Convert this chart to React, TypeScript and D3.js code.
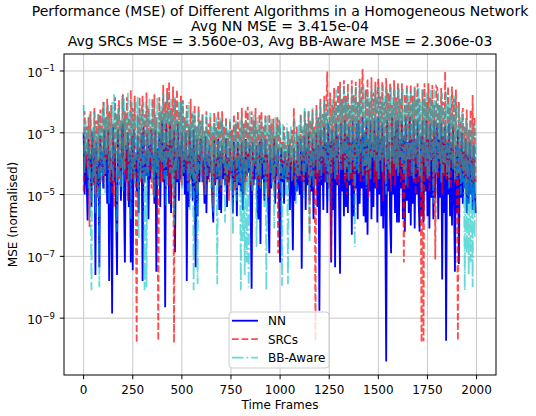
import { line, range, scaleLinear, scaleLog } from "d3"

// log10(MSE), one sample every 5 time frames (0..1995), one row per 100 frames
const NN_LOG = [
  -3.0, -5.0, -3.6, -4.4, -5.84, -3.2, -4.2, -3.7, -5.4, -3.0, -4.6, -3.5, -7.6, -3.3, -4.7, -3.9, -7.35, -3.1, -4.3, -3.6,
  -4.8, -2.9, -4.4, -3.5, -5.3, -2.9, -7.8, -3.6, -4.3, -8.85, -2.8, -4.6, -3.4, -5.5, -7.6, -2.9, -4.4, -3.7, -5.2, -2.9,
  -2.7, -5.0, -7.2, -3.4, -4.5, -3.0, -5.4, -3.6, -7.2, -3.1, -7.45, -2.9, -4.4, -3.7, -4.9, -3.1, -5.6, -3.5, -4.3, -3.0,
  -7.8, -2.8, -4.6, -3.6, -4.4, -3.0, -5.8, -3.4, -4.5, -2.9, -4.2, -3.7, -5.3, -2.9, -7.5, -3.5, -4.5, -3.0, -5.4, -3.3,
  -2.6, -4.6, -3.3, -8.65, -2.7, -4.4, -3.4, -5.3, -2.7, -5.6, -3.2, -4.3, -2.9, -6.87, -3.5, -4.6, -2.7, -5.2, -3.4, -4.5,
  -3.0, -4.4, -3.6, -5.0, -3.0, -7.8, -3.7, -5.4, -2.9, -4.5, -3.5, -5.2, -2.9, -4.4, -7.35, -3.2, -5.7, -3.7, -4.6, -3.2,
  -3.3, -4.6, -3.8, -5.3, -3.1, -5.6, -3.7, -4.5, -3.4, -4.3, -3.9, -5.2, -5.9, -3.2, -4.7, -3.8, -4.5, -3.2, -5.5, -3.6,
  -5.6, -3.4, -4.5, -3.9, -4.7, -3.2, -5.4, -3.8, -4.6, -3.5, -4.4, -3.9, -5.6, -3.3, -4.6, -3.8, -5.7, -3.3, -4.7, -3.7,
  -4.9, -3.3, -5.5, -3.8, -4.6, -3.2, -4.4, -3.7, -4.3, -3.4, -5.3, -8.05, -3.3, -4.7, -3.8, -4.5, -3.4, -5.5, -5.8, -3.3,
  -6.6, -3.2, -4.5, -3.8, -5.2, -3.2, -4.6, -3.7, -5.5, -6.9, -3.4, -4.8, -3.8, -4.5, -3.2, -5.3, -3.7, -4.4, -3.5, -5.3,
  -7.2, -3.5, -4.6, -3.9, -5.3, -3.6, -4.5, -3.9, -4.6, -3.4, -5.5, -3.8, -4.6, -6.8, -3.5, -5.2, -3.9, -4.9, -3.3, -4.6,
  -5.0, -3.2, -7.4, -3.6, -4.6, -3.1, -5.5, -3.5, -4.7, -3.0, -5.2, -3.6, -4.9, -3.2, -5.8, -3.5, -4.5, -3.0, -5.4, -3.4,
  -8.76, -2.9, -4.7, -3.4, -5.5, -2.8, -4.6, -3.3, -5.6, -2.7, -4.8, -3.3, -7.2, -2.9, -5.5, -3.2, -7.35, -2.7, -4.7, -3.1,
  -5.2, -7.56, -2.7, -4.9, -3.2, -5.7, -2.6, -5.4, -3.1, -5.6, -2.8, -4.7, -3.3, -6.3, -2.6, -5.7, -3.2, -4.8, -2.7, -5.8,
  -2.6, -5.3, -3.2, -4.8, -2.5, -5.7, -3.0, -5.9, -2.6, -6.3, -3.2, -4.9, -2.6, -5.8, -3.3, -5.4, -2.6, -4.8, -3.1, -5.9,
  -2.5, -5.0, -3.2, -5.7, -2.7, -6.1, -3.1, -5.2, -10.4, -2.6, -4.9, -3.3, -5.8, -6.9, -2.5, -5.0, -3.1, -5.6, -2.6, -5.9,
  -2.6, -5.9, -3.2, -4.8, -2.6, -5.8, -3.1, -6.2, -2.5, -5.2, -3.3, -5.6, -2.5, -6.0, -3.2, -5.3, -2.6, -6.1, -3.2, -5.0,
  -2.6, -5.2, -6.2, -3.1, -5.7, -2.6, -5.9, -3.3, -4.9, -2.6, -5.7, -3.2, -6.1, -2.7, -5.1, -3.2, -5.8, -2.6, -5.1, -3.2,
  -2.7, -5.8, -3.2, -5.1, -2.7, -7.75, -3.1, -5.6, -2.8, -9.73, -3.3, -5.0, -2.7, -5.7, -3.3, -6.0, -2.8, -5.1, -7.5, -3.4,
  -5.6, -2.9, -7.25, -3.5, -5.1, -3.0, -5.3, -3.6, -4.8, -3.2, -5.6, -3.7, -5.3, -3.3, -5.0, -3.8, -5.5, -3.4, -4.8, -5.6,
]

const SRC_LOG = [
  -4.9, -2.3, -4.1, -2.8, -4.4, -2.5, -6.05, -2.3, -3.8, -2.9, -4.7, -2.2, -5.0, -2.6, -5.1, -2.4, -3.9, -2.25, -4.6, -2.7,
  -2.0, -4.8, -2.5, -3.9, -1.9, -4.2, -2.3, -4.6, -2.1, -5.0, -2.7, -5.4, -1.85, -3.7, -2.4, -4.5, -1.95, -4.7, -2.6, -4.1,
  -1.75, -4.3, -2.3, -4.6, -1.85, -5.2, -2.5, -3.9, -1.62, -4.5, -2.2, -4.6, -1.8, -4.8, -9.8, -2.4, -4.0, -1.85, -4.6, -2.5,
  -1.8, -4.7, -2.4, -3.8, -1.7, -4.3, -2.2, -4.2, -2.6, -4.8, -1.9, -5.0, -1.75, -3.9, -2.5, -4.5, -9.73, -1.85, -4.6, -2.3,
  -4.6, -1.45, -3.9, -2.0, -4.1, -1.55, -4.7, -1.35, -5.3, -2.2, -4.4, -1.5, -9.8, -1.9, -4.5, -1.6, -3.8, -2.3, -4.6, -1.8,
  -4.7, -1.95, -3.9, -2.5, -4.2, -2.1, -4.6, -2.7, -5.1, -1.9, -4.3, -2.4, -4.5, -2.1, -4.9, -2.8, -4.8, -2.15, -3.9, -2.6,
  -4.4, -2.4, -4.7, -2.9, -5.0, -2.3, -3.9, -2.7, -4.6, -2.5, -4.3, -3.0, -5.4, -2.35, -4.6, -2.8, -4.1, -2.3, -4.8, -2.6,
  -4.9, -2.3, -4.0, -2.8, -4.5, -2.5, -4.7, -3.0, -5.2, -2.6, -4.5, -2.9, -4.0, -2.4, -4.9, -2.7, -4.8, -2.3, -3.9, -2.85,
  -4.6, -2.2, -4.0, -2.7, -5.0, -2.25, -4.6, -2.16, -3.9, -2.8, -4.7, -2.3, -4.9, -2.6, -4.1, -2.2, -4.5, -2.9, -4.7, -2.4,
  -4.7, -2.3, -4.0, -2.8, -4.4, -2.4, -4.8, -3.0, -5.1, -2.4, -3.9, -2.7, -4.6, -2.55, -4.9, -3.1, -4.3, -2.5, -6.9, -2.6,
  -2.9, -4.5, -3.3, -4.0, -2.8, -4.2, -3.4, -4.6, -2.95, -4.8, -3.2, -4.1, -2.9, -4.5, -2.2, -4.7, -4.3, -2.8, -4.5, -3.1,
  -4.4, -2.4, -4.6, -2.9, -4.9, -2.3, -3.9, -2.7, -4.5, -2.3, -6.3, -2.6, -4.5, -2.25, -4.0, -2.8, -9.73, -2.1, -4.5, -2.5,
  -4.6, -1.9, -3.9, -2.4, -4.3, -1.8, -4.6, -2.2, -1.02, -4.5, -4.8, -1.7, -7.1, -2.1, -4.3, -1.55, -3.9, -2.0, -4.6, -1.45,
  -4.7, -1.35, -3.9, -1.9, -4.2, -1.3, -4.6, -1.8, -5.0, -1.4, -4.0, -2.1, -4.5, -1.3, -4.7, -1.75, -4.9, -1.35, -3.8, -2.0,
  -4.4, -1.25, -4.6, -1.8, -0.94, -4.6, -3.9, -1.6, -4.5, -1.25, -5.1, -2.0, -4.4, -1.2, -3.8, -1.7, -4.6, -1.35, -4.8, -1.9,
  -1.25, -4.5, -1.8, -3.9, -1.35, -5.2, -2.0, -4.6, -1.23, -4.0, -1.7, -4.5, -1.4, -4.9, -2.1, -4.4, -1.3, -4.7, -1.85, -4.1,
  -1.4, -4.3, -1.9, -4.6, -1.4, -4.0, -7.2, -1.75, -4.4, -1.45, -4.8, -2.0, -4.4, -1.45, -3.9, -1.8, -4.6, -1.5, -5.0, -2.1,
  -1.4, -4.6, -1.9, -4.0, -9.79, -1.6, -9.75, -1.4, -4.4, -2.0, -4.5, -1.4, -4.9, -1.85, -3.9, -1.45, -4.7, -2.1, -7.1, -1.5,
  -1.55, -4.5, -2.1, -4.0, -1.55, -5.0, -2.0, -4.4, -1.02, -4.5, -3.9, -1.5, -4.6, -2.2, -4.8, -1.5, -4.0, -1.9, -4.6, -1.6,
  -4.7, -9.73, -2.0, -4.5, -2.6, -4.2, -2.2, -4.4, -2.8, -5.0, -2.25, -4.6, -2.9, -4.0, -2.25, -4.7, -1.78, -4.6, -2.5, -4.6,
]

const BB_LOG = [
  -2.1, -4.3, -2.6, -3.7, -2.9, -4.8, -2.4, -5.2, -8.1, -2.8, -4.5, -2.3, -5.6, -3.0, -4.1, -2.4, -8.0, -2.7, -4.6, -2.2,
  -4.4, -2.0, -5.0, -2.5, -3.7, -2.1, -5.3, -2.7, -4.2, -2.0, -4.6, -1.75, -3.8, -2.4, -6.2, -2.1, -4.4, -2.6, -4.8, -1.8,
  -4.9, -1.85, -4.2, -2.5, -3.6, -1.7, -4.6, -2.3, -5.8, -2.0, -4.3, -2.6, -4.7, -2.0, -3.9, -1.8, -6.4, -2.4, -4.5, -2.2,
  -4.5, -2.0, -8.1, -2.5, -8.0, -2.1, -4.4, -1.9, -3.8, -2.6, -4.6, -2.0, -5.1, -2.4, -4.3, -1.85, -4.7, -2.3, -3.9, -2.1,
  -4.0, -1.7, -4.5, -2.3, -5.4, -1.6, -3.8, -2.2, -4.3, -1.9, -4.7, -2.4, -6.0, -1.85, -4.2, -2.5, -4.5, -1.95, -3.8, -2.0,
  -4.8, -2.0, -4.3, -2.6, -3.9, -2.2, -4.9, -2.0, -5.5, -2.7, -4.4, -2.3, -8.1, -2.4, -4.6, -2.8, -7.9, -2.3, -4.2, -2.6,
  -4.6, -2.4, -3.9, -2.9, -5.0, -2.4, -4.4, -3.0, -4.1, -2.35, -4.8, -2.8, -5.6, -2.6, -4.0, -2.5, -7.9, -2.9, -4.5, -2.5,
  -4.7, -2.6, -4.0, -3.0, -5.9, -2.6, -4.5, -2.9, -4.2, -2.55, -4.9, -3.1, -6.3, -2.7, -4.0, -2.6, -5.2, -3.0, -4.6, -2.6,
  -8.1, -2.4, -6.5, -2.9, -7.6, -2.5, -7.2, -2.8, -8.0, -2.3, -4.6, -2.9, -5.0, -2.4, -4.0, -2.7, -6.7, -2.5, -4.4, -2.9,
  -4.8, -2.5, -4.0, -2.9, -5.4, -2.5, -8.1, -2.45, -3.9, -2.9, -4.3, -2.55, -4.7, -3.0, -6.1, -2.5, -4.1, -2.8, -4.6, -2.6,
  -2.65, -4.4, -7.95, -2.7, -4.5, -3.1, -5.0, -2.7, -7.9, -3.0, -4.0, -2.75, -4.6, -3.2, -3.9, -2.6, -5.3, -3.0, -4.4, -2.75,
  -4.4, -2.4, -3.9, -2.8, -5.1, -2.2, -4.3, -2.7, -4.0, -2.3, -6.5, -2.6, -4.4, -2.2, -4.8, -2.9, -3.9, -2.25, -4.3, -2.5,
  -4.2, -2.0, -4.5, -2.4, -3.8, -1.95, -4.1, -2.3, -4.6, -1.9, -5.2, -2.5, -4.3, -1.9, -3.8, -2.2, -4.5, -1.6, -4.4, -2.1,
  -3.9, -1.55, -4.2, -2.0, -3.7, -1.5, -4.4, -1.9, -4.1, -1.7, -4.6, -2.1, -4.3, -1.5, -3.9, -1.9, -6.7, -1.55, -4.2, -2.0,
  -4.3, -1.5, -3.8, -1.9, -4.4, -1.45, -4.1, -2.0, -4.8, -1.6, -4.2, -1.85, -4.5, -1.55, -3.8, -2.1, -3.9, -1.45, -4.3, -1.8,
  -4.5, -1.5, -3.9, -1.95, -4.3, -1.45, -3.8, -1.8, -5.0, -1.55, -4.2, -2.0, -4.3, -1.5, -3.9, -1.85, -4.0, -1.6, -4.2, -2.0,
  -4.4, -1.55, -3.8, -1.9, -4.1, -1.55, -4.3, -2.1, -4.7, -1.55, -3.9, -1.8, -3.9, -1.65, -4.4, -2.0, -4.5, -1.55, -3.8, -1.9,
  -4.2, -1.55, -4.4, -2.0, -4.9, -1.6, -3.8, -1.9, -4.1, -1.7, -4.5, -2.1, -4.4, -1.6, -3.9, -1.95, -5.3, -1.6, -4.3, -2.0,
  -4.3, -1.7, -3.9, -2.1, -4.6, -1.7, -4.3, -2.2, -4.0, -1.7, -4.4, -2.0, -4.8, -1.8, -3.9, -2.3, -4.2, -1.75, -4.5, -2.2,
  -4.5, -2.0, -4.3, -2.5, -5.0, -2.3, -4.6, -2.8, -8.1, -2.5, -6.9, -2.9, -7.6, -2.6, -7.2, -3.0, -8.0, -2.7, -6.4, -3.0,
]

const FRAMES = range(0, 2000, 5)
const X_TICKS = [0, 250, 500, 750, 1000, 1250, 1500, 1750, 2000]
const Y_TICK_EXP = [-1, -3, -5, -7, -9]

const TITLE = [
  "Performance (MSE) of Different Algorithms in a Homogeneous Network",
  "Avg NN MSE = 3.415e-04",
  "Avg SRCs MSE = 3.560e-03, Avg BB-Aware MSE = 2.306e-03",
]

const SERIES = [
  { name: "NN", values: NN_LOG, color: "#0000ff", opacity: 1, dash: "none" },
  { name: "SRCs", values: SRC_LOG, color: "#ff0000", opacity: 0.7, dash: "6.7 2.9" },
  { name: "BB-Aware", values: BB_LOG, color: "#00bfbf", opacity: 0.6, dash: "11.6 2.9 1.8 2.9" },
]

const W = 536
const H = 416
const left = 64, top = 54, right = 496, bottom = 375
const font = "DejaVu Sans, sans-serif"

const App = () => {
  const x = scaleLinear().domain([-99.95, 2098.95]).range([left, right])
  const y = scaleLog().domain([Math.pow(10, -10.84), Math.pow(10, -0.45)]).range([bottom, top])

  const path = (vals: number[]) => line<number>()
    .x((_, i) => x(FRAMES[i]))
    .y(v => y(Math.pow(10, v)))(vals.slice(0, FRAMES.length))

  const cx = (left + right) / 2

  return (
    <div style={{ position: "absolute", left: 0, top: 0 }}>
      <svg width={W} height={H} style={{ display: "block", fontFamily: font }}>
        <rect width={W} height={H} fill="white" />
        <defs>
          <clipPath id="plot">
            <rect x={left} y={top} width={right - left} height={bottom - top} />
          </clipPath>
        </defs>

        {/* grid */}
        <g stroke="#c8c8c8" strokeWidth={1}>
          {X_TICKS.map(t => <line key={t} x1={x(t)} x2={x(t)} y1={top} y2={bottom} />)}
          {Y_TICK_EXP.map(e => <line key={e} x1={left} x2={right} y1={y(Math.pow(10, e))} y2={y(Math.pow(10, e))} />)}
        </g>

        <g clipPath="url(#plot)" fill="none" strokeWidth={1.8}>
          {SERIES.map(s => (
            <path key={s.name} d={path(s.values) || ""} stroke={s.color} strokeOpacity={s.opacity}
              strokeDasharray={s.dash} />
          ))}
        </g>

        {/* axes frame */}
        <rect x={left} y={top} width={right - left} height={bottom - top} fill="none" stroke="black" strokeWidth={1} />

        {/* x axis */}
        <g fontSize={12} textAnchor="middle" fill="#000">
          {X_TICKS.map(t => (
            <g key={t}>
              <line x1={x(t)} x2={x(t)} y1={bottom} y2={bottom + 4.2} stroke="black" />
              <text x={x(t)} y={bottom + 18.5}>{t}</text>
            </g>
          ))}
          <text x={cx} y={409}>Time Frames</text>
        </g>

        {/* y axis */}
        <g fontSize={12} textAnchor="end" fill="#000">
          {Y_TICK_EXP.map(e => (
            <g key={e}>
              <line x1={left - 4.2} x2={left} y1={y(Math.pow(10, e))} y2={y(Math.pow(10, e))} stroke="black" />
              <text x={left - 9} y={y(Math.pow(10, e)) + 6}>
                <tspan>10</tspan>
                <tspan fontSize={8.5} dy={-5.5}>{"\u2212" + Math.abs(e)}</tspan>
              </text>
            </g>
          ))}
          <text transform={`translate(17,${(top + bottom) / 2}) rotate(-90)`} textAnchor="middle">MSE (normalised)</text>
        </g>

        {/* title */}
        <g fontSize={14} textAnchor="middle" fill="#000">
          {TITLE.map((t, i) => <text key={i} x={cx} y={16 + i * 14.8}>{t}</text>)}
        </g>

        {/* legend */}
        <g>
          <rect x={229} y={312} width={100} height={56} rx={3} fill="white" fillOpacity={0.8} stroke="#cccccc" />
          {SERIES.map((s, i) => {
            const ly = 320.7 + i * 18.5
            return (
              <g key={s.name}>
                <line x1={232} x2={258} y1={ly} y2={ly} stroke={s.color} strokeOpacity={s.opacity}
                  strokeWidth={1.8} strokeDasharray={s.dash} />
                <text x={268} y={ly + 4.3} fontSize={12} fill="#000">{s.name}</text>
              </g>
            )
          })}
        </g>
      </svg>
    </div>
  )
}

export default App
